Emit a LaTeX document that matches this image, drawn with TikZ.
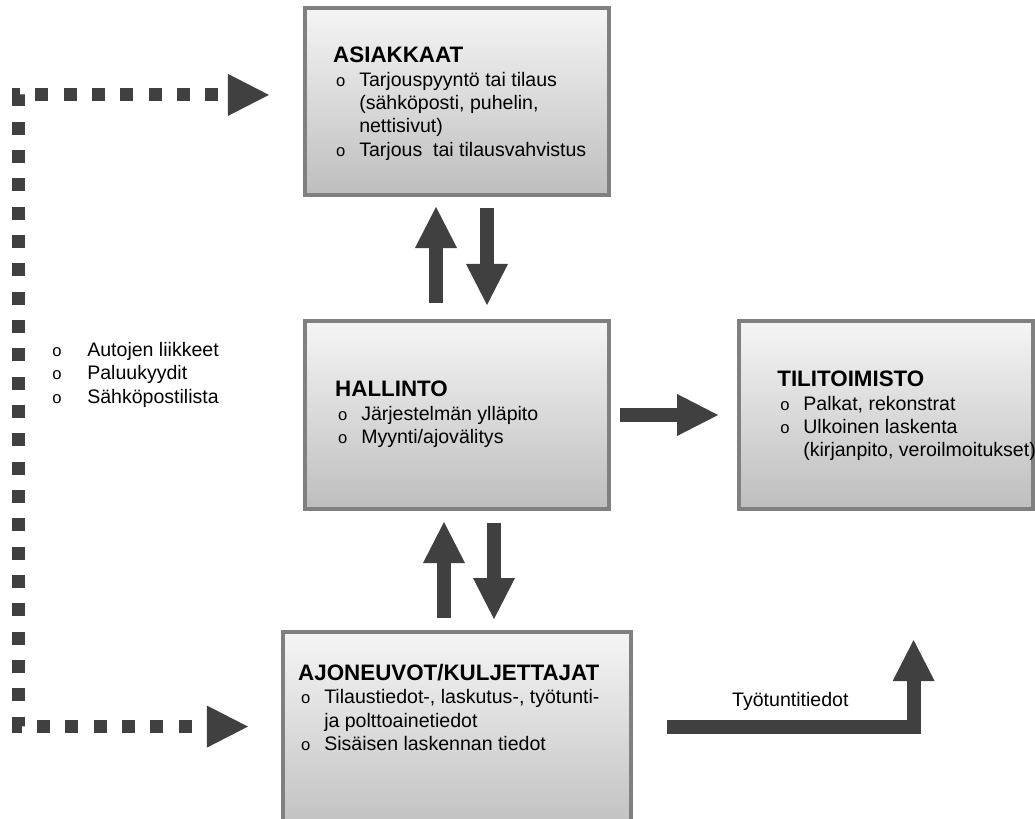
\documentclass[tikz,border=0pt]{standalone}
\usepackage{fontspec}
\setmainfont{Liberation Sans}
\usetikzlibrary{arrows.meta,positioning,calc}
\definecolor{boxtop}{HTML}{F5F5F5}
\definecolor{boxbot}{HTML}{BEBEBE}
\definecolor{boxline}{HTML}{808080}
\definecolor{darkarr}{HTML}{404040}
\newcommand{\boxtitle}[1]{{\fontsize{15.9}{17}\selectfont\bfseries #1}}
\newcommand{\bitem}[1]{\hspace*{2.1pt}\makebox[16.4pt][l]{\fontsize{11.8}{12}\selectfont o}#1}
\newcommand{\bcont}[1]{\hspace*{18.5pt}#1}
\newcommand{\litem}[1]{\makebox[24.9pt][l]{\fontsize{11.8}{12}\selectfont o}#1}

\begin{document}
\begin{tikzpicture}[x=0.025cm, y=-0.025cm,
  unit/.style={draw=boxline, line width=2.85pt, top color=boxtop, bottom color=boxbot, inner sep=0pt, outer sep=0pt},
  txt/.style={anchor=north west, inner sep=0pt, align=left, font=\fontsize{13.9}{16.6}\selectfont},
  blk/.style={draw=darkarr, line width=10pt, -{Triangle[length=29.2pt, width=29.9pt, line width=0pt]}},
  dots/.style={draw=darkarr, line width=9.25pt, dash pattern=on 9.25pt off 10.9pt, dash phase=9.25pt,
    {Triangle[length=29.2pt, width=29.9pt, line width=0pt]}-{Triangle[length=29.2pt, width=29.9pt, line width=0pt]}}]
  \useasboundingbox (0,0) rectangle (1035,818);
  \clip (0,0) rectangle (1035,818);
  \node[unit, minimum width=7.6cm, minimum height=4.7cm] (hal) at (457,415) {};
  \node[unit, minimum width=7.6cm, minimum height=4.675cm, above=3.15cm of hal] (asi) {};
  \node[unit, minimum width=7.35cm, minimum height=4.7cm, right=3.25cm of hal] (til) {};
  \node[unit, minimum width=8.7cm, minimum height=5.2cm, below=3.075cm of hal] (ajo) {};
  \node[txt] (asiT) at ($(asi.north west)+(28,39)$) {\boxtitle{ASIAKKAAT}\\ \bitem{Tarjouspyyntö tai tilaus}\\ \bcont{(sähköposti, puhelin,}\\ \bcont{nettisivut)}\\ \bitem{Tarjous\ \ tai tilausvahvistus}};
  \node[txt] (halT) at ($(hal.north west)+(30,60)$) {\boxtitle{HALLINTO}\\ \bitem{Järjestelmän ylläpito}\\ \bitem{Myynti/ajovälitys}};
  \node[txt] (tilT) at ($(til.north west)+(38,50)$) {\boxtitle{TILITOIMISTO}\\ \bitem{Palkat, rekonstrat}\\ \bitem{Ulkoinen laskenta}\\ \bcont{(kirjanpito, veroilmoitukset)}};
  \node[txt] (ajoT) at ($(ajo.north west)+(15,32)$) {\boxtitle{AJONEUVOT/KULJETTAJAT}\\ \bitem{Tilaustiedot-, laskutus-, työtunti-}\\ \bcont{ja polttoainetiedot}\\ \bitem{Sisäisen laskennan tiedot}};
  \node[txt] (notes) at (52,342) {\litem{Autojen liikkeet}\\ \litem{Paluukyydit}\\ \litem{Sähköpostilista}};
  % block arrows
  \draw[blk] ($(hal.north)+(-21,-18)$) -- ($(asi.south)+(-21,12)$);
  \draw[blk] ($(asi.south)+(30,13)$) -- ($(hal.north)+(30,-16)$);
  \draw[blk] ($(ajo.north)+(-13,-14)$) -- ($(hal.south)+(-13,13)$);
  \draw[blk] ($(hal.south)+(37,14)$) -- ($(ajo.north)+(37,-13)$);
  \draw[blk] ($(hal.east)+(11,0)$) -- ($(til.west)+(-21,0)$);
  \draw[blk] ($(ajo.east)+(36,-9.5)$) -| node[pos=0.25, above=3pt, font=\fontsize{13.9}{16.6}\selectfont] (lbl) {Työtuntitiedot} ($(til.south)+(27.5,131)$);
  % dotted loop
  \draw[dots] ($(ajo.west)+(-35,-9.5)$) -| ($(asi.west)+(-286.5,-6.5)$) -- ($(asi.west)+(-36,-6.5)$);
\end{tikzpicture}
\end{document}
